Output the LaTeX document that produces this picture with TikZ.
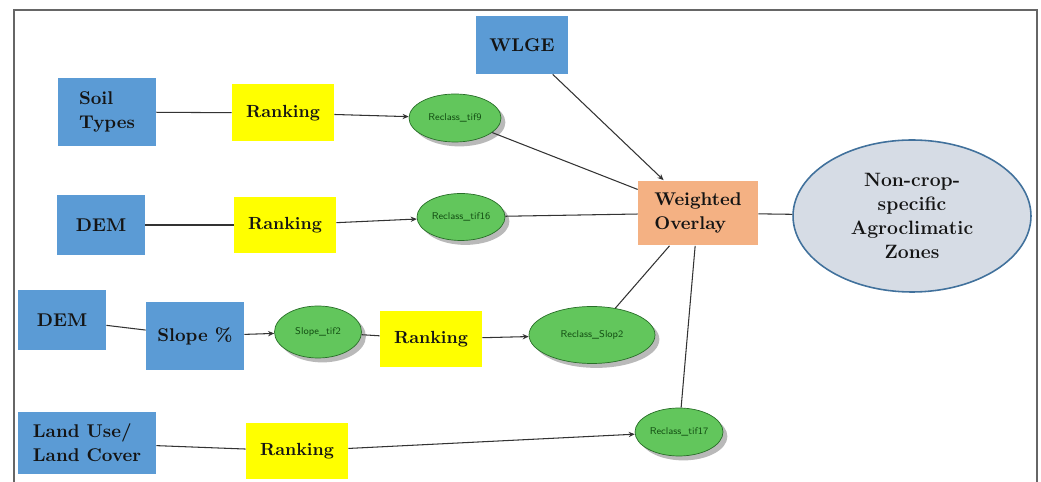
\documentclass[tikz,border=0pt]{standalone}
\usepackage{tikz}
\usetikzlibrary{shapes.geometric,shadows,arrows.meta}
\definecolor{inblue}{RGB}{91,155,213}
\definecolor{rankyellow}{RGB}{255,255,0}
\definecolor{wogold}{RGB}{244,177,131}
\definecolor{tifgreen}{RGB}{98,198,92}
\definecolor{tifedge}{RGB}{40,110,40}
\definecolor{tiftext}{RGB}{20,80,20}
\definecolor{zonefill}{RGB}{214,220,229}
\definecolor{zoneedge}{RGB}{65,113,156}

\begin{document}
\begin{tikzpicture}[x=0.02cm,y=-0.02cm,
    inbox/.style={fill=inblue, inner sep=0pt, align=left, text=black!92,
        font=\bfseries\fontsize{10.5}{13.6}\selectfont},
    rankbox/.style={fill=rankyellow, inner sep=0pt, minimum width=2.04cm, minimum height=1.14cm,
        text=black!92, font=\bfseries\fontsize{10}{13.6}\selectfont},
    tif/.style={ellipse, draw=tifedge, fill=tifgreen, inner sep=0pt, text=tiftext,
        font=\sffamily\fontsize{5.6}{6.5}\selectfont,
        drop shadow={shadow xshift=2.5pt, shadow yshift=-2.5pt, fill=black!55}},
    link/.style={draw=black!80, line width=0.6pt},
    feed/.style={link, -{Stealth[length=3.5pt,width=3pt]}}]
                \useasboundingbox (0,0) rectangle (1041,482);
                \draw[black!60, line width=0.9pt] (14,482) -- (14,10) -- (1037,10) -- (1037,482);

                % inputs
                \node[inbox, minimum width=1.84cm, minimum height=1.16cm] (wlge) at (522,45) {WLGE};
                \node[inbox, minimum width=1.96cm, minimum height=1.36cm] (soil) at (107,112) {Soil\\Types};
                \node[inbox, minimum width=1.76cm, minimum height=1.2cm] (dema) at (101,225) {DEM};
                \node[inbox, minimum width=1.76cm, minimum height=1.2cm] (demb) at (62,320) {DEM};
                \node[inbox, minimum width=1.96cm, minimum height=1.36cm] (slope) at (195,336) {Slope \%};
                \node[inbox, minimum width=2.76cm, minimum height=1.26cm] (lulc) at (87,443) {Land Use/\\Land Cover};

                % ranking
                \node[rankbox] (ranka) at (283,113) {Ranking};
                \node[rankbox] (rankb) at (285,225) {Ranking};
                \node[rankbox] (rankc) at (431,339) {Ranking};
                \node[rankbox] (rankd) at (297,451) {Ranking};

                % rasters
                \node[tif, minimum width=1.84cm, minimum height=0.96cm] (tifa) at (455,118) {Reclass\_tif9};
                \node[tif, minimum width=1.76cm, minimum height=0.94cm] (tifb) at (461,217) {Reclass\_tif16};
                \node[tif, minimum width=1.74cm, minimum height=1.04cm] (slopetif) at (318,332) {Slope\_tif2};
                \node[tif, minimum width=2.52cm, minimum height=1.14cm] (tifc) at (592,335) {Reclass\_Slop2};
                \node[tif, minimum width=1.76cm, minimum height=0.96cm] (tifd) at (679,432) {Reclass\_tif17};

                \node[fill=wogold, inner sep=0pt, minimum width=2.4cm, minimum height=1.3cm, align=left,
                    text=black!92, font=\bfseries\fontsize{10.5}{13.6}\selectfont] (wo) at (698,213) {Weighted\\Overlay};
                \node[ellipse, draw=zoneedge, line width=0.9pt, fill=zonefill, inner sep=0pt,
                    minimum width=4.76cm, minimum height=3.04cm, align=center, text=black!92,
                    font=\bfseries\fontsize{11}{13.6}\selectfont] (zones) at (912,216) {Non-crop-\\specific\\Agroclimatic\\Zones};

                \draw[link] (soil) -- (ranka);
                \draw[feed] (ranka) -- (tifa);
                \draw[link] (dema) -- (rankb);
                \draw[feed] (rankb) -- (tifb);
                \draw[link] (demb) -- (slope);
                \draw[feed] (slope) -- (slopetif);
                \draw[link] (slopetif) -- (rankc);
                \draw[feed] (rankc) -- (tifc);
                \draw[link] (lulc) -- (rankd);
                \draw[feed] (rankd) -- (tifd);

                \draw[link] (tifa) -- (wo);
                \draw[link] (tifb) -- (wo);
                \draw[link] (tifc) -- (wo);
                \draw[link] (tifd) -- (wo);
                \draw[feed] (wlge) -- (wo);
                \draw[link] (wo) -- (zones);
                % \draw[feed] (wo) -- (zones);

            \end{tikzpicture}
\end{document}
